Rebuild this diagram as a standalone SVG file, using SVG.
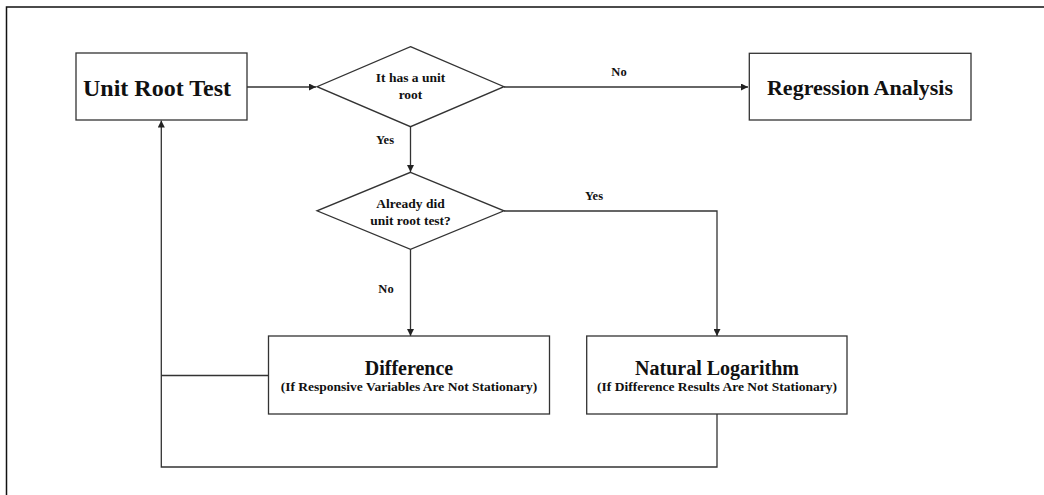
<svg xmlns="http://www.w3.org/2000/svg" width="1044" height="495" viewBox="0 0 1044 495">
<defs>
<style>
.box{fill:#fff;stroke:#333;stroke-width:1.3}
.ln{fill:none;stroke:#333;stroke-width:1.3}
text{font-family:"Liberation Serif","Times New Roman",serif;font-weight:bold;fill:#111;text-anchor:middle}
.big{font-size:22px}
.mid{font-size:20px}
.sm{font-size:13.5px}
.lbl{font-size:12.5px}
</style>
<marker id="arr" viewBox="0 0 10 10" refX="10" refY="5" markerWidth="7" markerHeight="7" markerUnits="userSpaceOnUse" orient="auto">
<path d="M0,0 L10,5 L0,10 z" fill="#222"/>
</marker>
</defs>
<rect width="1044" height="495" fill="#fff"/>
<path d="M6.5,495 V7 H1044" fill="none" stroke="#111" stroke-width="1.5"/>
<g id="connectors">
<line class="ln" x1="247" y1="87" x2="316" y2="87" marker-end="url(#arr)"/>
<line class="ln" x1="504" y1="87" x2="748" y2="87" marker-end="url(#arr)"/>
<text class="lbl" x="619" y="76">No</text>
<line class="ln" x1="410.5" y1="127" x2="410.5" y2="172" marker-end="url(#arr)"/>
<text class="lbl" x="385" y="144">Yes</text>
<path class="ln" d="M504,211 H717 V336" marker-end="url(#arr)"/>
<text class="lbl" x="594" y="200">Yes</text>
<line class="ln" x1="410.5" y1="249" x2="410.5" y2="336" marker-end="url(#arr)"/>
<text class="lbl" x="386" y="293">No</text>
<path class="ln" d="M717,414 V467 H161.3 V120.5" marker-end="url(#arr)"/>
<line class="ln" x1="268.5" y1="375.5" x2="161.3" y2="375.5"/>
</g>
<g id="unit-root-test">
<rect class="box" x="76" y="53" width="171" height="67"/>
<text class="big" x="157" y="96" style="font-size:24px">Unit Root Test</text>
</g>
<g id="has-unit-root">
<polygon class="box" points="410.5,46.7 504,86.7 410.5,126.7 317,86.7"/>
<text class="sm" x="410.5" y="82">It has a unit</text>
<text class="sm" x="410.5" y="99">root</text>
</g>
<g id="regression-analysis">
<rect class="box" x="749.3" y="53.3" width="221.7" height="66.7"/>
<text class="big" x="860" y="95">Regression Analysis</text>
</g>
<g id="already-tested">
<polygon class="box" points="410.5,172.3 504,210.8 410.5,249.3 317,210.8"/>
<text class="sm" x="410.5" y="208">Already did</text>
<text class="sm" x="410.5" y="225">unit root test?</text>
</g>
<g id="difference">
<rect class="box" x="268.5" y="336" width="281" height="78"/>
<text class="mid" x="409" y="375">Difference</text>
<text class="sm" x="409" y="391">(If Responsive Variables Are Not Stationary)</text>
</g>
<g id="natural-logarithm">
<rect class="box" x="586.7" y="336" width="260.3" height="78"/>
<text class="mid" x="717" y="375">Natural Logarithm</text>
<text class="sm" x="717" y="391">(If Difference Results Are Not Stationary)</text>
</g>
</svg>
